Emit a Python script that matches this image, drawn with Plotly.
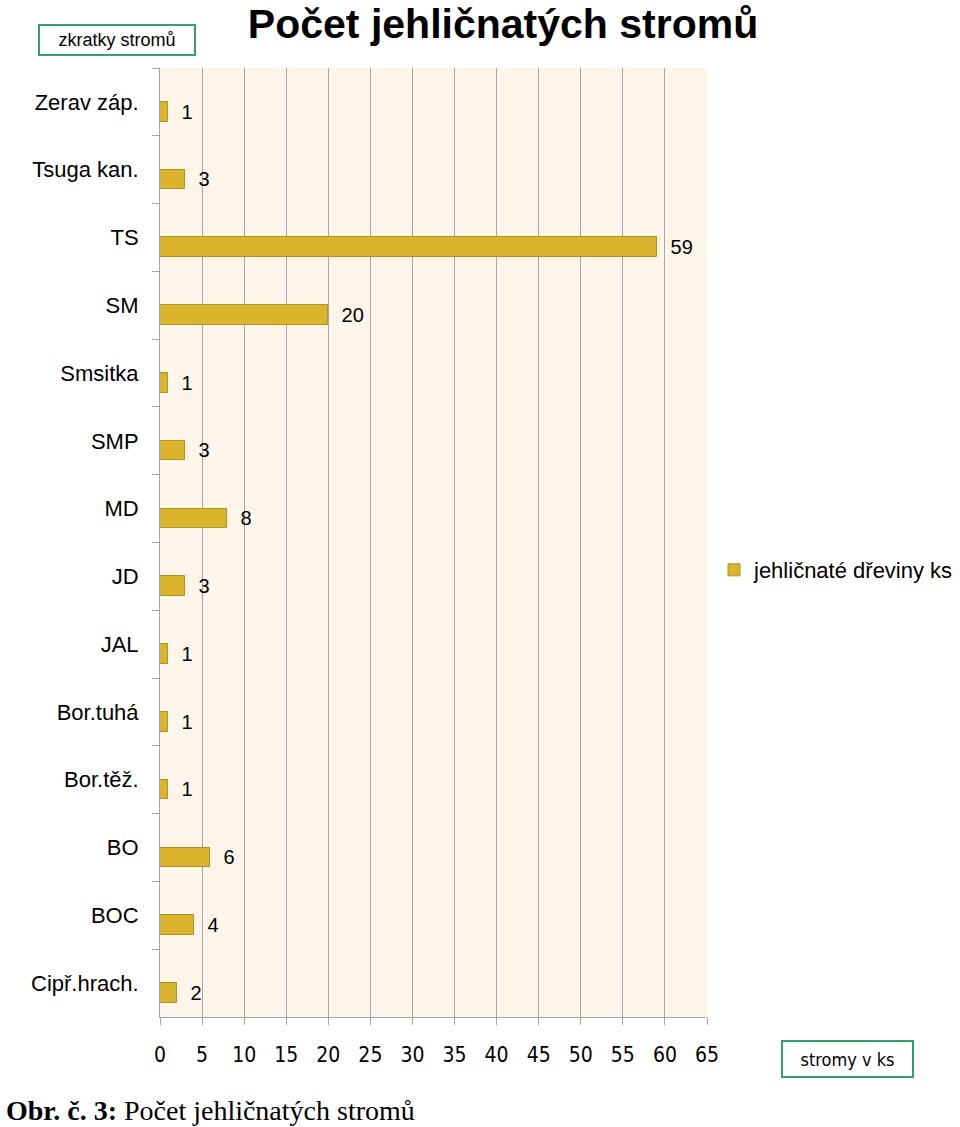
import plotly.graph_objects as go

# data (top to bottom)
species = ["Zerav záp.", "Tsuga kan.", "TS", "SM", "Smsitka", "SMP", "MD",
           "JD", "JAL", "Bor.tuhá", "Bor.těž.", "BO", "BOC", "Cipř.hrach."]
counts = [1, 3, 59, 20, 1, 3, 8, 3, 1, 1, 1, 6, 4, 2]
x_ticks = list(range(0, 70, 5))

FONT = "Liberation Sans, Arial, sans-serif"
NARROW = "Liberation Sans Narrow, DejaVu Sans Condensed, Liberation Sans"
BAR_FILL = "#D9B42C"
BAR_EDGE = "#B0921E"
GRID = "#A6A6A6"
GREEN = "#2FA36B"

fig = go.Figure()

fig.add_trace(go.Bar(
    x=counts, y=species, orientation="h",
    name="jehličnaté dřeviny ks",
    width=0.29, offset=0,
    marker=dict(color=BAR_FILL, line=dict(color=BAR_EDGE, width=1)),
    text=counts, texttemplate="\u00a0\u00a0%{x}", textposition="outside",
    textfont=dict(family=FONT, size=20, color="black"),
    constraintext="none",
    cliponaxis=False,
))

fig.update_layout(
    width=960, height=1127,
    margin=dict(l=160, r=253, t=68, b=110, autoexpand=False),
    paper_bgcolor="white",
    plot_bgcolor="#FDF5E9",
    font=dict(family=FONT, color="black"),
    title=dict(text="<b>Počet jehličnatých stromů</b>",
               font=dict(family=FONT, size=41, color="black"),
               x=0.524, xanchor="center", xref="container",
               y=0.979, yanchor="middle", yref="container"),
    showlegend=True,
    legend=dict(x=1.0128, xanchor="left", y=0.471, yanchor="middle",
                bgcolor="rgba(0,0,0,0)",
                font=dict(family=FONT, size=22, color="black")),
    bargap=0,
)

fig.update_xaxes(
    range=[0, 65], tickvals=x_ticks,
    showgrid=True, gridcolor=GRID, gridwidth=1,
    showline=True, linecolor=GRID, linewidth=1,
    ticks="outside", ticklen=7, tickcolor=GRID,
    tickfont=dict(family=NARROW, size=21),
    ticklabelstandoff=12,
    zeroline=False, automargin=False,
)

fig.update_yaxes(
    type="category", categoryorder="array", categoryarray=species,
    range=[13.5, -0.5],
    showgrid=False,
    showline=True, linecolor=GRID, linewidth=1,
    ticks="outside", ticklen=7, tickcolor=GRID, tickson="boundaries",
    tickfont=dict(family=FONT, size=22),
    ticklabelstandoff=16, automargin=False,
)

# boxed notes and figure caption
fig.add_annotation(
    text="zkratky stromů", xref="paper", yref="paper",
    x=-0.0786, y=1.0295, xanchor="center", yanchor="middle",
    showarrow=False, font=dict(family=FONT, size=18),
    width=154, height=28, borderpad=0,
    bordercolor=GREEN, borderwidth=2, bgcolor="white",
)
fig.add_annotation(
    text="stromy v ks", xref="paper", yref="paper",
    x=1.257, y=-0.0443, xanchor="center", yanchor="middle",
    showarrow=False, font=dict(family=NARROW, size=18),
    width=129, height=34, borderpad=0,
    bordercolor=GREEN, borderwidth=2, bgcolor="white",
)
fig.add_annotation(
    text="<b>Obr. č. 3:</b> Počet jehličnatých stromů",
    xref="paper", yref="paper",
    x=-0.285, y=-0.098, xanchor="left", yanchor="middle",
    showarrow=False,
    font=dict(family="Liberation Serif, Times New Roman, serif", size=28),
)

# the page body has a default 8px margin; drop it so the figure fills the window
fig.write_html("out.html", config={"displayModeBar": False},
               post_script="document.body.style.margin='0';")
